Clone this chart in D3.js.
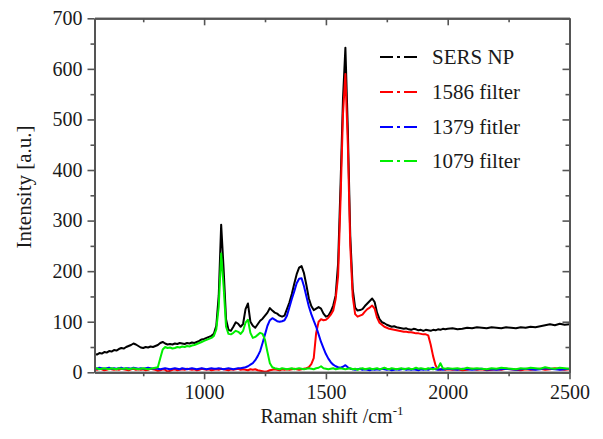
<!DOCTYPE html>
<html>
<head>
<meta charset="utf-8">
<script src="https://cdn.jsdelivr.net/npm/d3@7"></script>
<style>
  html, body { margin: 0; padding: 0; background: #fff; }
  svg { display: block; }
  text { font-family: "Liberation Serif", "Times New Roman", serif; fill: #1a1a1a; }
</style>
</head>
<body>
<svg id="chart" width="603" height="439"></svg>
<script>
// Raman shift sampling grid (cm^-1)
const shiftFine = d3.range(550, 2001, 10);
const shiftCoarse = d3.range(2020, 2501, 20);
const shifts = shiftFine.concat(shiftCoarse);

const seriesNames = ["SERS NP", "1586 filter", "1379 fitler", "1079 filter"];
const seriesColors = ["#000000", "#ff0000", "#0000ff", "#00ee00"];

const sersNP = [
  36,35,38,37,40,39,42,41,44,43,
  46,48,47,50,52,54,57,55,52,49,
  48,50,49,51,50,52,54,58,60,57,
  55,56,55,57,56,58,57,56,58,57,
  59,58,60,62,65,66,68,70,72,76,
  92,152,292,205,105,84,82,90,99,96,
  90,96,125,136,100,92,88,95,102,106,
  112,118,127,122,118,116,112,110,112,125,
  138,155,175,194,207,210,196,172,146,131,
  123,126,129,126,116,110,112,120,132,152,
  215,370,540,642,480,270,165,128,122,123,
  125,131,136,141,146,139,118,105,99,97,
  94,92,90,91,89,88,87,86,87,85,
  84,86,85,83,84,82,84,83,82,84,
  83,85,84,86,85,86,
  87,85,86,88,87,89,88,87,89,88,87,89,88,87,89,88,90,89,91,93,95,93,96,94,95
];

const filter1586 = [
  6,5,7,6,4,5,7,6,5,6,
  5,7,6,5,4,6,7,5,6,5,
  6,4,5,7,6,5,3,4,6,5,
  1,3,5,6,4,5,6,5,7,6,
  5,6,4,5,7,6,5,6,4,5,
  6,5,7,6,5,4,6,5,6,7,
  5,6,5,4,6,5,6,4,3,2,
  1,2,4,5,6,5,4,6,5,6,
  5,6,7,6,5,6,7,8,
  10,16,28,78,100,105,103,104,108,114,
  122,145,190,340,510,590,450,250,150,115,
  110,112,114,120,125,128,132,126,108,98,
  94,90,88,86,85,84,83,82,81,80,
  80,79,79,78,77,77,76,75,75,73,
  55,32,14,6,5,7,5,6,
  5,6,4,5,7,5,6,4,5,6,5,7,6,5,4,6,5,6,7,5,6,8,6,5,6
];

const filter1379 = [
  8,7,9,8,7,8,9,7,8,7,
  8,9,7,8,8,7,9,8,7,8,
  7,8,9,8,7,8,7,6,7,8,
  7,6,7,8,7,6,8,7,6,7,
  8,7,6,7,8,7,6,7,8,7,
  7,8,7,6,7,8,7,6,7,8,
  8,9,10,
  12,15,18,24,32,42,58,75,92,103,
  107,104,101,100,101,103,112,128,145,160,
  176,185,186,170,150,130,115,102,90,75,
  60,48,36,27,20,15,12,10,9,11,
  14,10,7,
  6,5,6,7,5,6,5,4,6,5,
  6,5,7,6,5,6,4,5,6,5,
  6,7,5,6,5,6,5,4,6,5,
  6,5,7,9,6,5,6,5,6,7,
  6,5,7,6,5,6,7,5,6,5,6,7,6,5,6,7,6,5,6,8,7,6,5,6,7
];

const filter1079 = [
  7,8,6,7,8,7,6,8,7,6,
  8,7,7,8,6,7,8,7,6,7,
  8,7,6,7,8,9,
  10,28,45,50,48,49,47,48,50,49,
  51,50,52,51,53,54,56,58,60,62,
  64,66,68,72,85,130,235,170,90,76,
  75,78,82,80,76,82,98,104,78,68,
  70,74,78,76,64,40,18,10,8,
  7,6,8,7,6,7,8,6,7,8,
  7,6,7,8,7,6,8,9,12,8,
  7,6,7,8,6,7,8,7,6,7,
  8,6,7,5,7,8,6,7,8,6,
  7,8,6,7,9,7,6,8,7,6,
  7,8,6,7,8,6,7,9,7,8,
  7,6,8,7,6,7,8,18,8,7,
  8,
  7,8,6,9,7,8,7,6,8,7,9,8,7,6,8,7,9,8,7,10,8,7,9,8,7
];

const seriesValues = [sersNP, filter1586, filter1379, filter1079];

const xMajorTicks = [1000, 1500, 2000, 2500];
const xMinorTicks = [750, 1250, 1750, 2250];
const yMajorTicks = [0, 100, 200, 300, 400, 500, 600, 700];
const yMinorTicks = [50, 150, 250, 350, 450, 550, 650];

const svg = d3.select("#chart");
const pLeft = 94.5, pRight = 569.5, pTop = 18.3, pBottom = 372.3;

const x = d3.scaleLinear().domain([550, 2500]).range([pLeft, pRight]);
const y = d3.scaleLinear().domain([0, 700]).range([pBottom, pTop]);

const axisColor = "#555";
const major = 7, minor = 4;

svg.append("defs").append("clipPath").attr("id", "clip")
  .append("rect").attr("x", pLeft).attr("y", pTop).attr("width", pRight - pLeft).attr("height", pBottom - pTop);

const line = d3.line().x((d, i) => x(shifts[i])).y(d => y(d));
const plot = svg.append("g").attr("clip-path", "url(#clip)");
seriesValues.forEach((vals, k) => {
  plot.append("path")
    .datum(vals)
    .attr("d", line)
    .attr("fill", "none")
    .attr("stroke", seriesColors[k])
    .attr("stroke-width", 2)
    .attr("stroke-linejoin", "round");
});

function styleAxis(g) {
  g.attr("font-family", null);
  g.select(".domain").attr("stroke", axisColor).attr("stroke-width", 2);
  g.selectAll(".tick line").attr("stroke", axisColor).attr("stroke-width", 1.6);
  g.selectAll(".tick text").style("font-size", "20px").attr("fill", "#1a1a1a");
}

svg.append("g").attr("transform", `translate(0,${pBottom})`)
  .call(d3.axisBottom(x).tickValues(xMinorTicks).tickSize(minor).tickFormat("").tickSizeOuter(0))
  .call(styleAxis);
svg.append("g").attr("transform", `translate(0,${pBottom})`)
  .call(d3.axisBottom(x).tickValues(xMajorTicks).tickSize(major).tickPadding(6).tickSizeOuter(0).tickFormat(d3.format("d")))
  .call(styleAxis);

svg.append("g").attr("transform", `translate(0,${pTop})`)
  .call(d3.axisBottom(x).tickValues(xMinorTicks).tickSize(minor).tickFormat("").tickSizeOuter(0))
  .call(styleAxis);
svg.append("g").attr("transform", `translate(0,${pTop})`)
  .call(d3.axisBottom(x).tickValues(xMajorTicks).tickSize(major).tickFormat("").tickSizeOuter(0))
  .call(styleAxis);

svg.append("g").attr("transform", `translate(${pLeft},0)`)
  .call(d3.axisLeft(y).tickValues(yMinorTicks).tickSize(minor).tickFormat("").tickSizeOuter(0))
  .call(styleAxis);
svg.append("g").attr("transform", `translate(${pLeft},0)`)
  .call(d3.axisLeft(y).tickValues(yMajorTicks).tickSize(major).tickPadding(5).tickSizeOuter(0).tickFormat(d3.format("d")))
  .call(styleAxis);

svg.append("g").attr("transform", `translate(${pRight},0)`)
  .call(d3.axisLeft(y).tickValues(yMinorTicks).tickSize(minor).tickFormat("").tickSizeOuter(0))
  .call(styleAxis);
svg.append("g").attr("transform", `translate(${pRight},0)`)
  .call(d3.axisLeft(y).tickValues(yMajorTicks).tickSize(major).tickFormat("").tickSizeOuter(0))
  .call(styleAxis);

const xt = svg.append("text")
  .attr("x", (pLeft + pRight) / 2).attr("y", 423)
  .attr("text-anchor", "middle")
  .style("font-size", "20px");
xt.append("tspan").text("Raman shift /cm");
xt.append("tspan").attr("dy", -8).style("font-size", "13px").text("-1");

svg.append("text")
  .attr("transform", `translate(31,187) rotate(-90)`)
  .attr("text-anchor", "middle")
  .style("font-size", "21px")
  .text("Intensity [a.u.]");

const legendRows = [57, 92, 127, 161];
const lg = svg.append("g");
seriesNames.forEach((name, k) => {
  const yy = legendRows[k];
  lg.append("line")
    .attr("x1", 380).attr("x2", 420).attr("y1", yy).attr("y2", yy)
    .attr("stroke", seriesColors[k]).attr("stroke-width", 2)
    .attr("stroke-dasharray", "13,4,3,4");
  lg.append("text")
    .attr("x", 432).attr("y", yy + 7)
    .style("font-size", "21px")
    .text(name);
});
</script>
</body>
</html>
